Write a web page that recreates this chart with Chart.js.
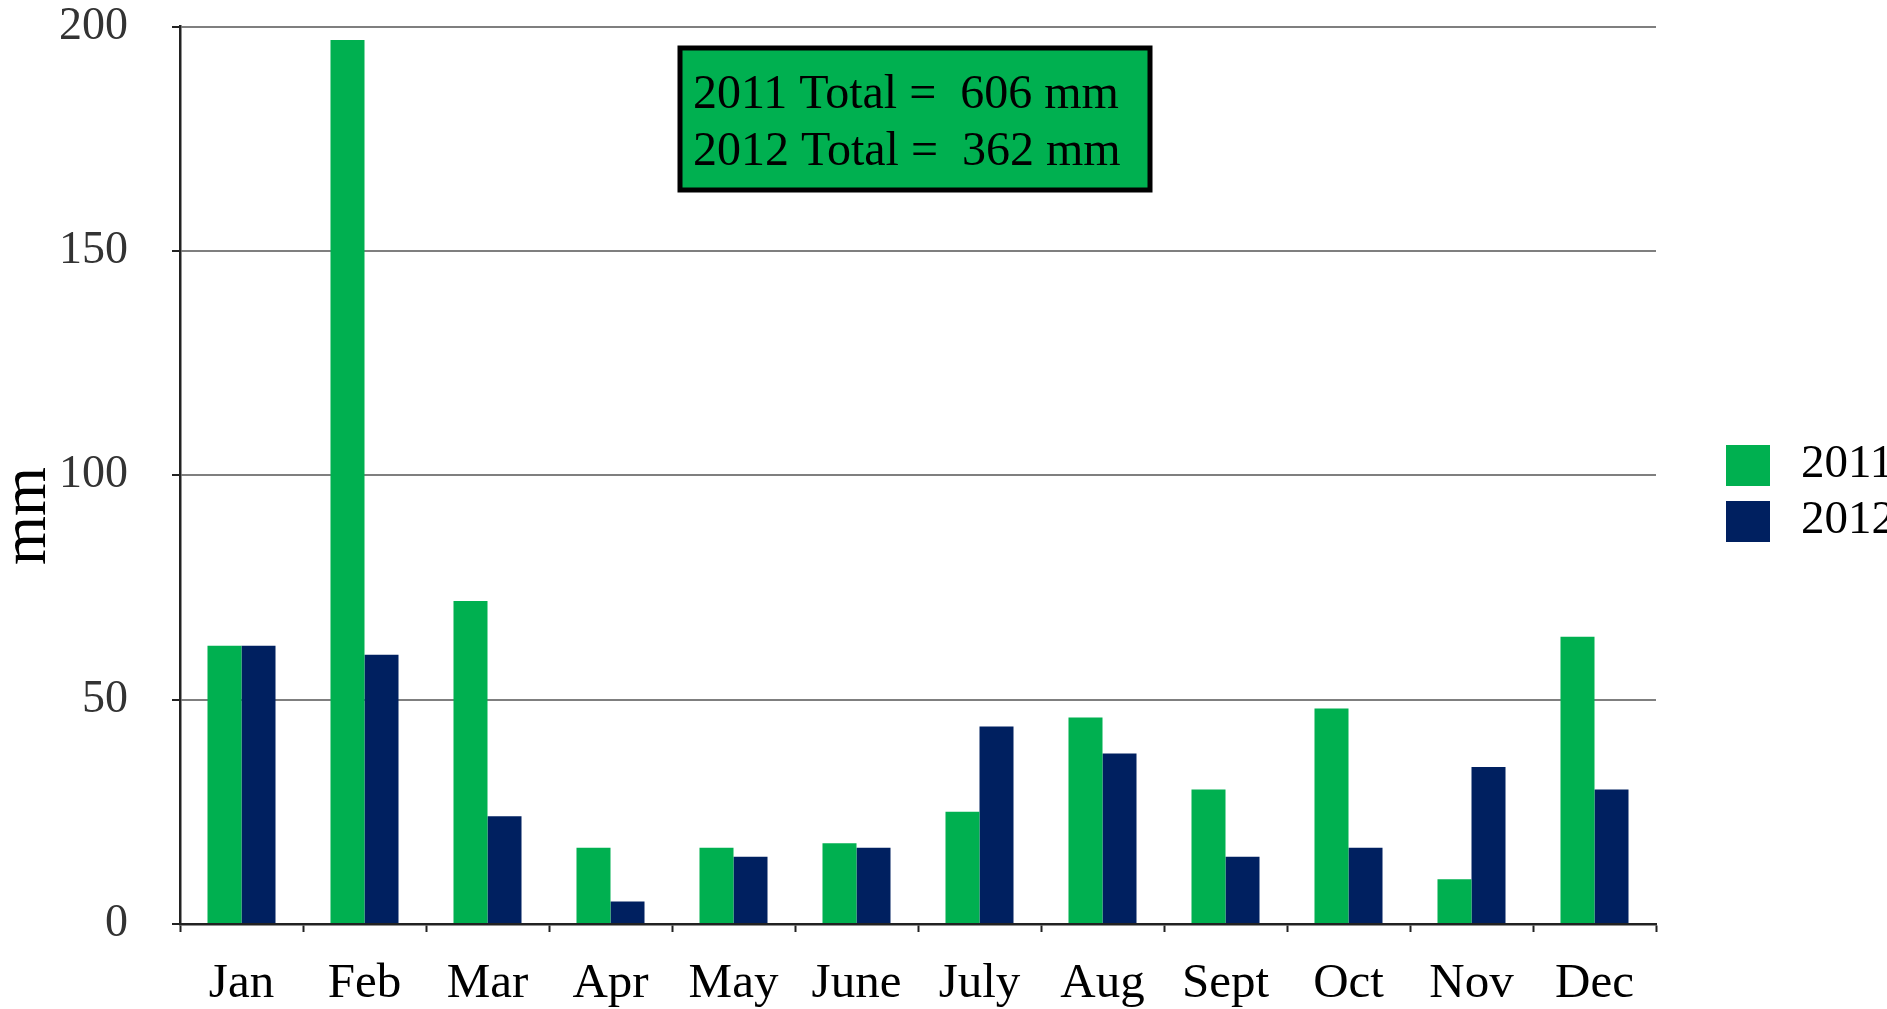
<!DOCTYPE html>
<html><head><meta charset="utf-8">
<script src="https://cdn.jsdelivr.net/npm/chart.js@4/dist/chart.umd.min.js"></script>
<style>html,body{margin:0;padding:0;background:#fff;overflow:hidden}</style>
</head><body>
<canvas id="c" width="1887" height="1009" style="display:block;width:1887px;height:1009px"></canvas>
<script>
const months = ['Jan','Feb','Mar','Apr','May','June','July','Aug','Sept','Oct','Nov','Dec'];
const rain2011 = [62,197,72,17,17,18,25,46,30,48,10,64];
const rain2012 = [62,60,24,5,15,17,44,38,15,17,35,30];
const seriesLabels = ['2011','2012'];
const seriesColors = ['#00B050','#002060'];
const yTicks = [0,50,100,150,200];
const yTitle = 'mm';
const unit = 'mm';

const FONT = "'Liberation Serif','Times New Roman',serif";
const sum = a => a.reduce((s,v)=>s+v,0);

const overlay = {
  id: 'overlay',
  afterDraw(chart) {
    const ctx = chart.ctx;
    ctx.save();
    // annotation box
    ctx.fillStyle = '#00B050';
    ctx.fillRect(680, 48, 470, 142);
    ctx.strokeStyle = '#000';
    ctx.lineWidth = 5;
    ctx.strokeRect(680, 48, 470, 142);
    ctx.fillStyle = '#000';
    ctx.font = '48px ' + FONT;
    ctx.textBaseline = 'alphabetic';
    ctx.textAlign = 'left';
    chart.data.datasets.forEach((ds, i) => {
      ctx.fillText(ds.label + ' Total =  ' + sum(ds.data) + ' ' + unit, 693, 108 + 57 * i);
    });
    // legend
    ctx.font = '47px ' + FONT;
    chart.data.datasets.forEach((ds, i) => {
      ctx.fillStyle = ds.backgroundColor;
      ctx.fillRect(1726, 445 + 56 * i, 44, 41);
      ctx.fillStyle = '#000';
      ctx.textBaseline = 'middle';
      ctx.fillText(ds.label, 1801, 465 + 56 * i);
    });
    // y title
    ctx.translate(28, 516);
    ctx.rotate(-Math.PI / 2);
    ctx.font = '63px ' + FONT;
    ctx.textAlign = 'center';
    ctx.textBaseline = 'middle';
    ctx.fillText(yTitle, 0, 0);
    ctx.restore();
  }
};

new Chart(document.getElementById('c'), {
  type: 'bar',
  data: {
    labels: months,
    datasets: [
      { label: seriesLabels[0], data: rain2011, backgroundColor: seriesColors[0] },
      { label: seriesLabels[1], data: rain2012, backgroundColor: seriesColors[1] }
    ]
  },
  options: {
    responsive: false,
    animation: false,
    devicePixelRatio: 1,
    layout: { padding: { top: 0, right: 231, bottom: 0, left: 0 } },
    datasets: { bar: { categoryPercentage: 0.553, barPercentage: 1.0 } },
    plugins: { legend: { display: false }, tooltip: { enabled: false } },
    scales: {
      x: {
        offset: true,
        afterFit: s => { s.height = 85; s.paddingLeft = 0; s.paddingRight = 0; },
        grid: { offset: true, drawOnChartArea: false, drawTicks: true, tickLength: 8, tickColor: '#222', tickWidth: 2 },
        border: { color: '#222', width: 2.5 },
        ticks: { color: '#000', padding: 28, font: { family: FONT, size: 49, lineHeight: 1 }, maxRotation: 0, autoSkip: false }
      },
      y: {
        min: 0, max: 200,
        afterFit: s => { s.width = 180; s.paddingTop = 26.5; s.paddingBottom = 0; },
        afterBuildTicks: s => { s.ticks = yTicks.map(v => ({ value: v })); },
        grid: { color: '#7f7f7f', lineWidth: 2, drawTicks: true, tickLength: 8, tickColor: '#222', tickWidth: 2 },
        border: { color: '#222', width: 2.5 },
        ticks: { color: '#333', padding: 44, font: { family: FONT, size: 46, lineHeight: 1 } }
      }
    }
  },
  plugins: [overlay]
});
</script>
</body></html>
